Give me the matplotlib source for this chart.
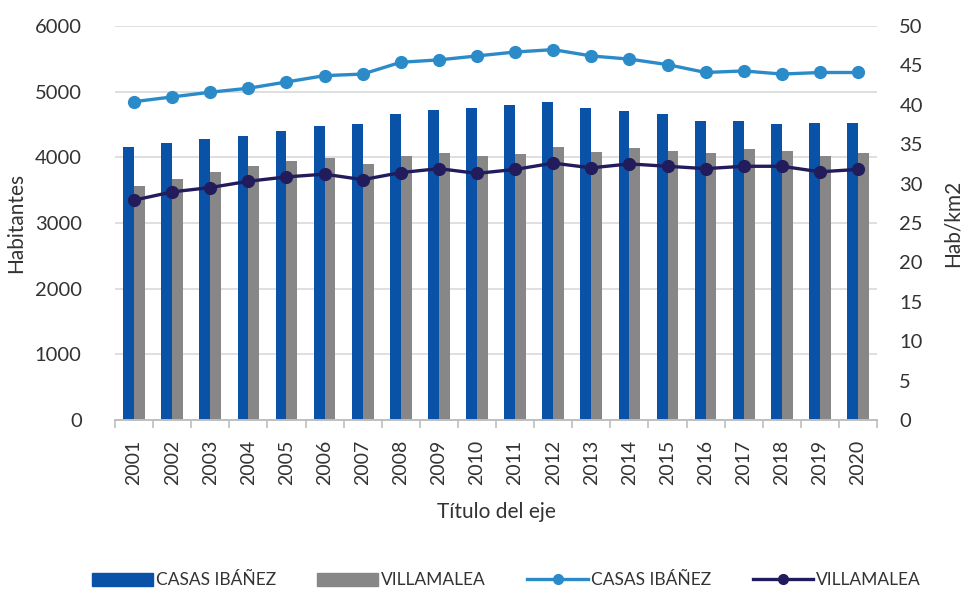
import matplotlib.pyplot as plt
import numpy as np
from matplotlib.lines import Line2D
from matplotlib.patches import Patch

plt.rcParams['font.family'] = ['Lato', 'DejaVu Sans']

years = [str(y) for y in range(2001, 2021)]

# population (Habitantes)
pop_casas = [4154, 4220, 4281, 4332, 4402, 4484, 4514, 4661, 4717, 4758,
             4804, 4839, 4752, 4712, 4656, 4550, 4554, 4514, 4524, 4529]
pop_villa = [3560, 3667, 3774, 3865, 3946, 3987, 3906, 4017, 4068, 4017,
             4047, 4159, 4083, 4144, 4098, 4073, 4124, 4098, 4022, 4063]

# density (Hab/km2)
dens_casas = [40.4, 41.0, 41.6, 42.1, 42.9, 43.7, 43.9, 45.4, 45.7, 46.2,
              46.7, 47.0, 46.2, 45.8, 45.1, 44.1, 44.3, 43.9, 44.1, 44.1]
dens_villa = [27.9, 28.95, 29.5, 30.3, 30.85, 31.2, 30.5, 31.4, 31.9, 31.3,
              31.8, 32.6, 32.0, 32.5, 32.2, 31.9, 32.2, 32.2, 31.5, 31.8]

c_bar1 = '#0a52a8'
c_bar2 = '#878787'
c_line1 = '#2b8bc9'
c_line2 = '#221c5c'
txt = '#333333'

fig = plt.figure(figsize=(9.61, 5.91), dpi=100)
ax = fig.add_axes([0.1197, 0.2893, 0.793, 0.6667])
ax2 = ax.twinx()

x = np.arange(len(years))
w = 0.285
ax.bar(x - w / 2, pop_casas, w, color=c_bar1, zorder=2)
ax.bar(x + w / 2, pop_villa, w, color=c_bar2, zorder=2)

ax2.plot(x, dens_casas, color=c_line1, lw=2.4, marker='o', ms=8.5, zorder=3)
ax2.plot(x, dens_villa, color=c_line2, lw=2.4, marker='o', ms=8.5, zorder=3)

ax.set_xlim(-0.5, len(years) - 0.5)
ax.set_ylim(0, 6000)
ax.set_yticks(range(0, 6001, 1000))
ax2.set_ylim(0, 50)
ax2.set_yticks(range(0, 51, 5))

ax.grid(axis='y', color='#d9d9d9', lw=1.2, zorder=0)
ax.set_axisbelow(True)

for a in (ax, ax2):
    for s in ('top', 'left', 'right'):
        a.spines[s].set_visible(False)
    a.spines['bottom'].set_color('#bfbfbf')
    a.spines['bottom'].set_linewidth(1.2)

ax.set_xticks(x)
ax.set_xticklabels(years, rotation=90, fontsize=14, color=txt)
ax.tick_params(axis='x', length=0, pad=14)
ax.set_xticks(np.arange(-0.5, len(years), 1), minor=True)
ax.tick_params(axis='x', which='minor', length=6, color='#bfbfbf', width=1.2)
ax.tick_params(axis='y', length=0, labelsize=14.5, labelcolor=txt, pad=24)
ax2.tick_params(axis='y', length=0, labelsize=14.5, labelcolor=txt, pad=16)

ax.set_ylabel('Habitantes', fontsize=15, color=txt, labelpad=6)
ax2.set_ylabel('Hab/km2', fontsize=15, color=txt, labelpad=14)
ax.set_xlabel('Título del eje', fontsize=15, color=txt, labelpad=12)

handles = [
    Patch(color=c_bar1, label='CASAS IBÁÑEZ'),
    Patch(color=c_bar2, label='VILLAMALEA'),
    Line2D([], [], color=c_line1, lw=2.4, marker='o', ms=7, label='CASAS IBÁÑEZ'),
    Line2D([], [], color=c_line2, lw=2.4, marker='o', ms=7, label='VILLAMALEA'),
]
fig.legend(handles=handles, loc='lower center', bbox_to_anchor=(0.527, -0.022),
           ncol=4, frameon=False, fontsize=12.5, labelcolor=txt,
           handlelength=3.5, handleheight=0.75, columnspacing=2.4,
           handletextpad=0.15)

fig.savefig('out.png', dpi=100, facecolor='white')
